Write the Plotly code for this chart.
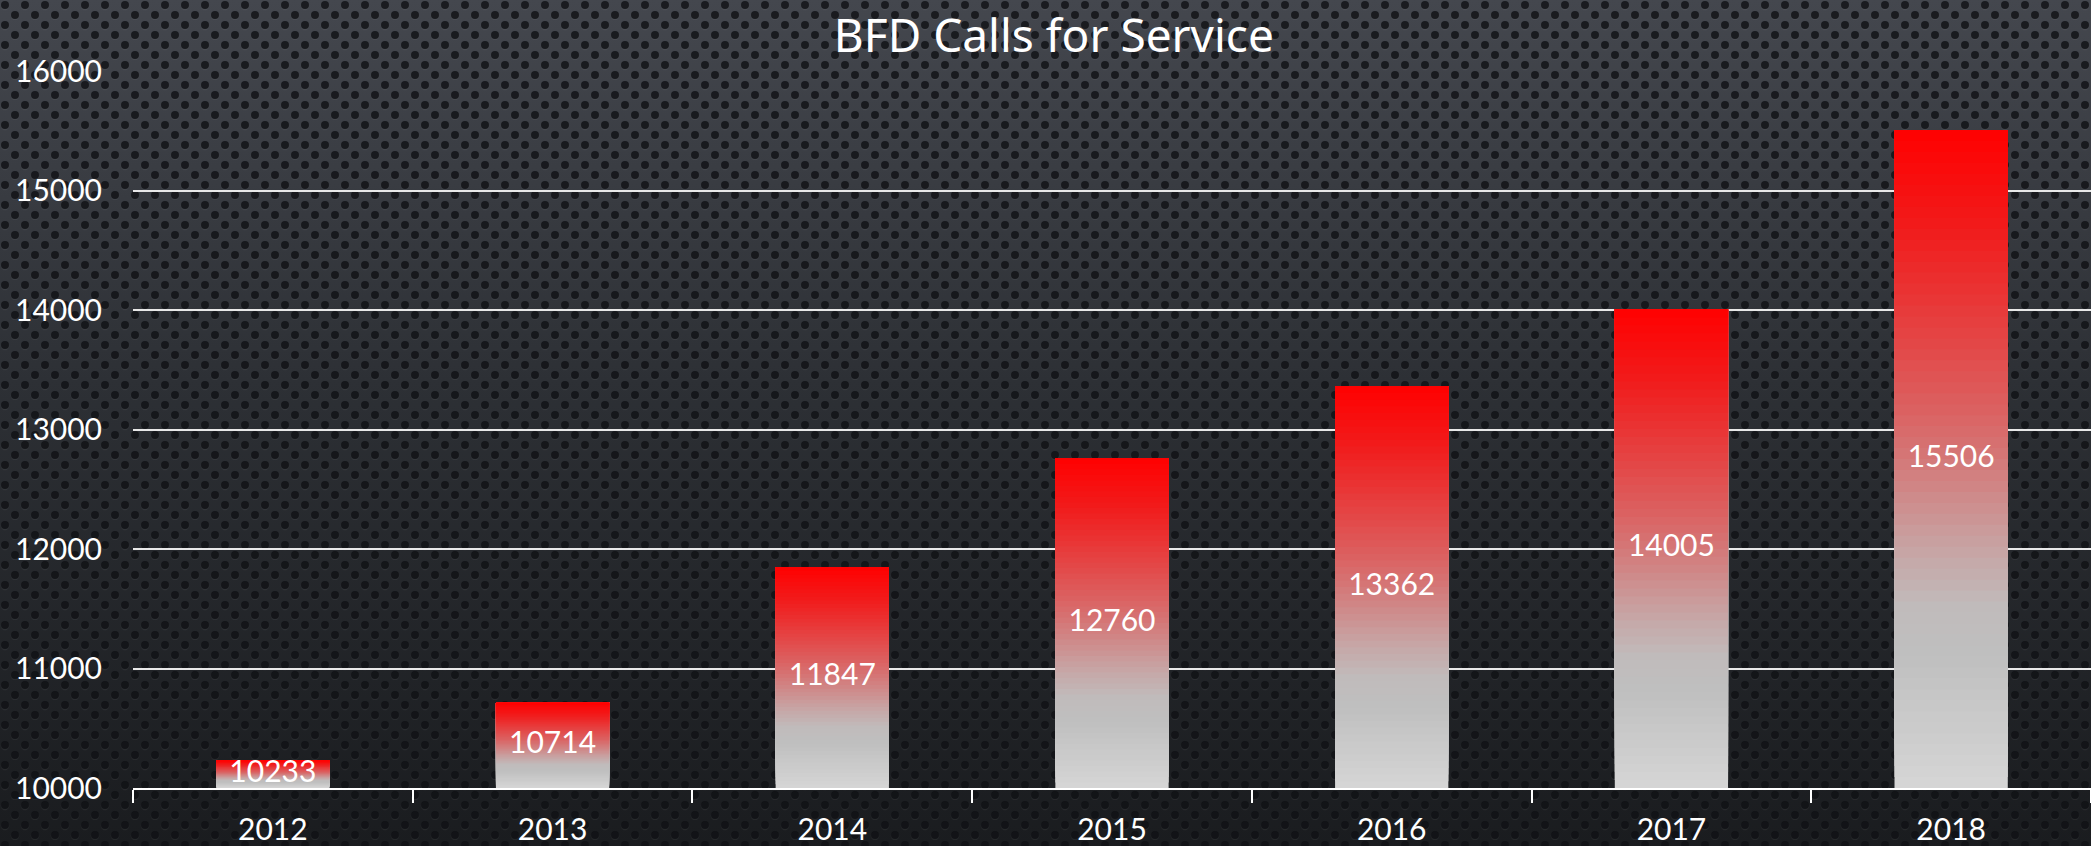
import base64
import plotly.graph_objects as go

# ---- data ----
years = ["2012", "2013", "2014", "2015", "2016", "2017", "2018"]
calls = [10233, 10714, 11847, 12760, 13362, 14005, 15506]
y_ticks = [10000, 11000, 12000, 13000, 14000, 15000, 16000]
title_text = "BFD Calls for Service"

BASE = 10000
N_SEG = 60

# gradient stops (t from top of bar = 0 to bottom = 1)
stops = [
    (0.00, (255, 0, 0)),
    (0.15, (241, 28, 28)),
    (0.33, (227, 72, 72)),
    (0.45, (217, 104, 104)),
    (0.55, (207, 136, 136)),
    (0.65, (198, 168, 168)),
    (0.73, (192, 188, 188)),
    (0.80, (191, 191, 191)),
    (1.00, (214, 214, 214)),
]


def grad_color(t):
    for (t0, c0), (t1, c1) in zip(stops[:-1], stops[1:]):
        if t0 <= t <= t1:
            f = (t - t0) / (t1 - t0) if t1 > t0 else 0
            c = [round(a + (b - a) * f) for a, b in zip(c0, c1)]
            return f"rgb({c[0]},{c[1]},{c[2]})"
    return "rgb(214,214,214)"


fig = go.Figure()

# each layer runs from its start up to the bar top; later layers cover earlier ones
for i in range(N_SEG):
    starts = [BASE + i * (v - BASE) / N_SEG for v in calls]
    t = 1 - (i + 0.5) / N_SEG
    fig.add_trace(go.Bar(
        x=years, y=[v - s for v, s in zip(calls, starts)], base=starts,
        marker=dict(color=grad_color(t), line=dict(width=0)),
        width=0.405, showlegend=False, hoverinfo="skip",
    ))

# value labels at bar middles
fig.add_trace(go.Scatter(
    x=years, y=[(v + BASE) / 2 for v in calls],
    text=[str(v) for v in calls], mode="text",
    textfont=dict(family="Lato, Open Sans, sans-serif", size=30, color="white"),
    showlegend=False, hoverinfo="skip",
))

# background: gradient + dotted texture as SVG
W, H = 2091, 846
ML, MR, MT, MB = 133, 0, 71, 58
PW, PH = W - ML - MR, H - MT - MB
svg = f'''<svg xmlns="http://www.w3.org/2000/svg" width="{W}" height="{H}" viewBox="0 0 {W} {H}">
<defs>
<linearGradient id="g" x1="0" y1="0" x2="0" y2="1">
<stop offset="0" stop-color="#44474e"/>
<stop offset="0.45" stop-color="#2d3035"/>
<stop offset="1" stop-color="#1a1c1f"/>
</linearGradient>
<pattern id="p" width="20" height="20" patternUnits="userSpaceOnUse">
<circle cx="5" cy="6" r="4.2" fill="#ffffff" fill-opacity="0.05"/>
<circle cx="15" cy="16" r="4.2" fill="#ffffff" fill-opacity="0.05"/>
<circle cx="5" cy="5" r="4" fill="#0d0e11" fill-opacity="0.8"/>
<circle cx="15" cy="15" r="4" fill="#0d0e11" fill-opacity="0.8"/>
</pattern>
</defs>
<rect width="{W}" height="{H}" fill="url(#g)"/>
<rect width="{W}" height="{H}" fill="url(#p)"/>
</svg>'''
uri = "data:image/svg+xml;base64," + base64.b64encode(svg.encode()).decode()

fig.update_layout(
    width=W, height=H,
    barmode="overlay",
    paper_bgcolor="#2a2c31",
    plot_bgcolor="rgba(0,0,0,0)",
    margin=dict(l=ML, r=MR, t=MT, b=MB),
    images=[dict(source=uri, xref="paper", yref="paper",
                 x=-ML / PW, y=1 + MT / PH, sizex=W / PW, sizey=H / PH,
                 xanchor="left", yanchor="top", sizing="stretch", layer="below")],
    title=dict(text=title_text, x=0.504, xanchor="center", y=0.958, yanchor="middle",
               font=dict(family="Liberation Sans Narrow, Arial Narrow, Noto Sans, sans-serif",
                         size=46, color="white")),
    font=dict(family="Lato, Open Sans, sans-serif", size=30, color="white"),
)

fig.update_yaxes(
    range=[BASE, 16000], tickvals=y_ticks, ticktext=[str(v) for v in y_ticks],
    showgrid=True, gridcolor="#e8e8e8", gridwidth=2,
    zeroline=False, showline=False, ticks="", ticklabelstandoff=30,
    tickfont=dict(size=30, color="white"),
)
fig.update_xaxes(
    type="category", showline=True, linecolor="white", linewidth=2,
    ticks="outside", tickson="boundaries", ticklen=13, tickcolor="white", tickwidth=2,
    ticklabelstandoff=14,
    showgrid=False, tickfont=dict(size=30, color="white"),
)

fig.write_html("out.html", config={"displayModeBar": False},
               post_script="document.body.style.margin='0';document.body.style.overflow='hidden';")
